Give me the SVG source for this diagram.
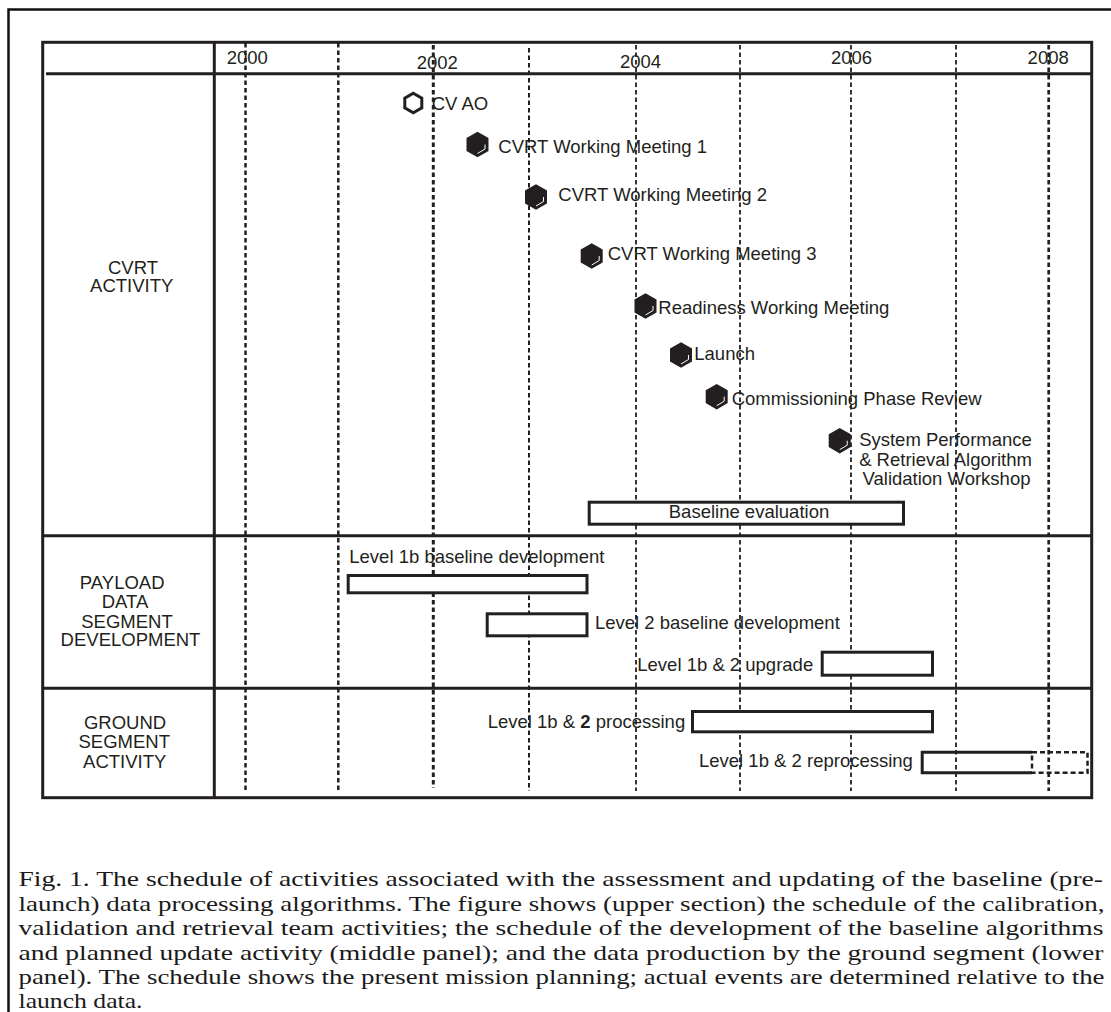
<svg xmlns="http://www.w3.org/2000/svg" xmlns:xlink="http://www.w3.org/1999/xlink" width="1111" height="1012" viewBox="0 0 1111 1012">
<style>
.t{font-family:"Liberation Sans",Arial,Helvetica,sans-serif;font-size:18.5px;fill:#231f20}
.m{text-anchor:middle}
.c{font-family:"Liberation Serif","Times New Roman",serif;font-size:21px;fill:#1a1a1a}
.bar{fill:#fff;stroke:#231f20;stroke-width:3}
.ln{stroke:#231f20;stroke-width:3;fill:none}
.dash{stroke:#231f20;fill:none;stroke-dasharray:4.5 3}
.hl{fill:none;stroke:#fff;stroke-width:1}
</style>
<defs>
<polygon id="hexf" points="0,-12.8 11,-6.4 11,6.4 0,12.8 -11,6.4 -11,-6.4" fill="#231f20"/>
<g id="hexs"><use xlink:href="#hexf" href="#hexf"/><polyline class="hl" points="0,9 7.5,4.5 7.5,0"/></g>
</defs>
<rect id="frame" x="8.5" y="9.5" width="1200" height="1100" fill="none" stroke="#111" stroke-width="2.5"/>
<g id="table">
<rect class="ln" x="42.7" y="42.3" width="1049" height="755.4" fill="#fff"/>
<line class="ln" x1="46" y1="73.7" x2="1091.7" y2="73.7"/>
<line class="ln" x1="214.3" y1="42.3" x2="214.3" y2="797.7"/>
<line class="ln" x1="42.7" y1="535.7" x2="1091.7" y2="535.7"/>
<line class="ln" x1="42.7" y1="688.3" x2="1091.7" y2="688.3"/>
</g>
<g id="gridlines">
<line class="dash" x1="245.5" y1="43" x2="245.5" y2="791" stroke-width="2.5"/>
<line class="dash" x1="338.3" y1="43" x2="338.3" y2="791" stroke-width="2.5"/>
<line class="dash" x1="433.3" y1="45" x2="433.3" y2="788" stroke-width="3"/>
<line class="dash" x1="529" y1="48" x2="529" y2="791" stroke-width="2"/>
<line class="dash" x1="636" y1="45" x2="636" y2="791" stroke-width="1.8"/>
<line class="dash" x1="740" y1="45" x2="740" y2="791" stroke-width="1.8"/>
<line class="dash" x1="851" y1="45" x2="851" y2="791" stroke-width="1.8"/>
<line class="dash" x1="956" y1="45" x2="956" y2="791" stroke-width="1.8"/>
<line class="dash" x1="1048.7" y1="45" x2="1048.7" y2="791" stroke-width="2.7"/>
</g>
<g id="years">
<text class="t" x="226.7" y="64">2000</text>
<text class="t" x="416.7" y="69">2002</text>
<text class="t" x="620" y="68">2004</text>
<text class="t" x="831" y="64">2006</text>
<text class="t" x="1027.6" y="64">2008</text>
</g>
<g id="row-labels">
<text class="t m" x="133" y="274.3">CVRT</text>
<text class="t m" x="131.7" y="291.7">ACTIVITY</text>
<text class="t m" x="122.2" y="589.3">PAYLOAD</text>
<text class="t m" x="125" y="607.7">DATA</text>
<text class="t m" x="127" y="627.7">SEGMENT</text>
<text class="t m" x="130.5" y="645.7">DEVELOPMENT</text>
<text class="t m" x="125" y="729.3">GROUND</text>
<text class="t m" x="124.2" y="748.3">SEGMENT</text>
<text class="t m" x="124.7" y="768.3">ACTIVITY</text>
</g>
<g id="cv-ao">
<polygon points="413.3,93.2 421.8,98.1 421.8,107.9 413.3,112.8 404.8,107.9 404.8,98.1" fill="none" stroke="#231f20" stroke-width="3"/>
<text class="t" x="431.7" y="110">CV AO</text>
</g>
<g id="wm1"><use xlink:href="#hexs" href="#hexs" x="477.5" y="144.5"/><text class="t" x="498.3" y="153.3">CVRT Working Meeting 1</text></g>
<g id="wm2"><use xlink:href="#hexs" href="#hexs" x="536" y="197"/><text class="t" x="558.3" y="201">CVRT Working Meeting 2</text></g>
<g id="wm3"><use xlink:href="#hexs" href="#hexs" x="591.7" y="256"/><text class="t" x="607.7" y="260">CVRT Working Meeting 3</text></g>
<g id="readiness"><use xlink:href="#hexs" href="#hexs" x="645.5" y="306"/><text class="t" x="658.3" y="314.3">Readiness Working Meeting</text></g>
<g id="launch"><use xlink:href="#hexs" href="#hexs" x="681" y="355"/><text class="t" x="694.3" y="360">Launch</text></g>
<g id="commissioning"><use xlink:href="#hexs" href="#hexs" x="716.7" y="396.7"/><text class="t" x="731.7" y="405">Commissioning Phase Review</text></g>
<g id="workshop"><use xlink:href="#hexs" href="#hexs" x="839.7" y="440.7"/>
<text class="t m" x="945.5" y="446">System Performance</text>
<text class="t m" x="945.5" y="466.3">&amp; Retrieval Algorithm</text>
<text class="t m" x="946.5" y="485">Validation Workshop</text>
</g>
<g id="baseline-eval"><rect class="bar" x="589.2" y="502.2" width="314.3" height="22"/><text class="t m" x="749" y="518.3">Baseline evaluation</text></g>
<g id="l1b-dev"><text class="t" x="349.3" y="562.7">Level 1b baseline development</text><rect class="bar" x="348.2" y="575.5" width="238.8" height="17.3"/></g>
<g id="l2-dev"><rect class="bar" x="487.2" y="613.8" width="99.8" height="22"/><text class="t" x="595" y="629.3">Level 2 baseline development</text></g>
<g id="upgrade"><text class="t" x="637.3" y="670.7">Level 1b &amp; 2 upgrade</text><rect class="bar" x="822.2" y="652.2" width="110.3" height="23"/></g>
<g id="processing"><text class="t" x="487.7" y="727.7">Level 1b &amp; <tspan font-weight="bold">2</tspan> processing</text><rect class="bar" x="692.5" y="711.5" width="240" height="20.3"/></g>
<g id="reprocessing"><text class="t" x="699" y="766.7">Level 1b &amp; 2 reprocessing</text>
<path d="M1032,752.2 H922.2 V772.8 H1032" class="ln"/>
<path d="M1032,752.2 H1087.5 V772.8 H1032 Z" fill="none" stroke="#231f20" stroke-width="2.5" stroke-dasharray="5 3"/>
</g>
<g id="caption">
<text class="c" x="18.5" y="886" textLength="1084.5" lengthAdjust="spacingAndGlyphs">Fig. 1. The schedule of activities associated with the assessment and updating of the baseline (pre-</text>
<text class="c" x="18.5" y="910.6" textLength="1086" lengthAdjust="spacingAndGlyphs">launch) data processing algorithms. The figure shows (upper section) the schedule of the calibration,</text>
<text class="c" x="18.5" y="935.2" textLength="1085" lengthAdjust="spacingAndGlyphs">validation and retrieval team activities; the schedule of the development of the baseline algorithms</text>
<text class="c" x="18.5" y="959.8" textLength="1085" lengthAdjust="spacingAndGlyphs">and planned update activity (middle panel); and the data production by the ground segment (lower</text>
<text class="c" x="18.5" y="984.4" textLength="1086" lengthAdjust="spacingAndGlyphs">panel). The schedule shows the present mission planning; actual events are determined relative to the</text>
<text class="c" x="18.5" y="1008" textLength="124" lengthAdjust="spacingAndGlyphs">launch data.</text>
</g>
</svg>
